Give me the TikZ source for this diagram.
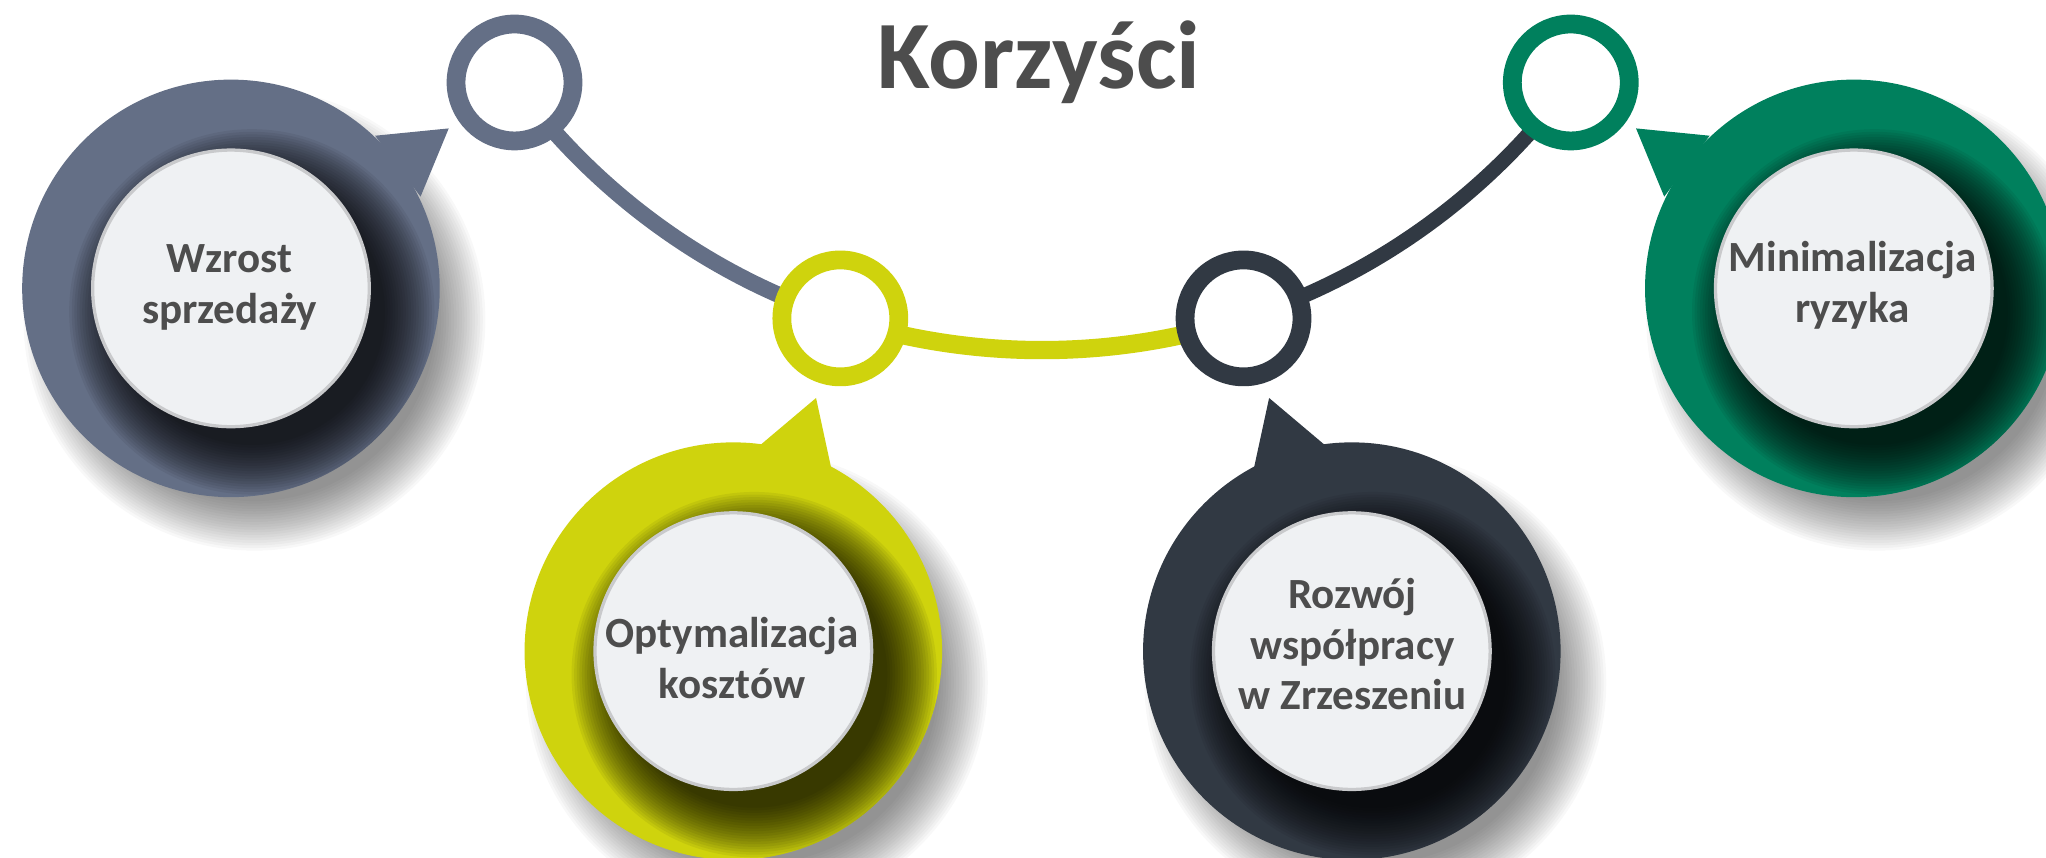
\documentclass[tikz,border=0pt]{standalone}
\usepackage{fontspec}
\setmainfont{Carlito}
\usetikzlibrary{calc,backgrounds}
\definecolor{cgray}{HTML}{646F86}
\definecolor{cyel}{HTML}{CFD30D}
\definecolor{cdark}{HTML}{313943}
\definecolor{cgreen}{HTML}{00805D}
\definecolor{ctext}{HTML}{4D4D4D}
\definecolor{cdisc}{HTML}{EFF1F3}
\definecolor{crim}{HTML}{C9CACC}
\newcommand{\bubOuterShadow}[1]{%
  \foreach \i in {1,...,20}{\fill[black,opacity=0.026] ($(#1)+(18,24)$) circle[radius={179-2*\i}];}}
\newcommand{\bubInnerShadow}[1]{%
  \begin{scope}\clip (#1) circle[radius=160];
  \foreach \i in {1,...,20}{\fill[black,opacity=0.06] ($(#1)+(16,18)$) circle[radius={142-2*\i}];}
  \end{scope}}
\begin{document}
\begin{tikzpicture}[x=1pt,y=-1pt,
  ring/.style={circle, draw=#1, line width=14.4pt, fill=white, minimum size=89.6pt, inner sep=0pt},
  link/.style={draw=#1},
  bubble/.style={circle, fill=#1, minimum size=320pt, inner sep=0pt, outer sep=0pt},
  disc/.style={circle, fill=cdisc, draw=crim, line width=2.5pt, minimum size=212pt, inner sep=0pt},
  lbl/.style={font=\bfseries\fontsize{33}{39}\selectfont, text=ctext, align=center, inner sep=0pt},
]
\useasboundingbox (0,0) rectangle (1568,657);

% title
\node[font=\bfseries\fontsize{74}{80}\selectfont, text=ctext, anchor=base, inner sep=0pt] (title) at (796,67.5) {Korzyści};

% rings
\node[ring=cgray]  (rg) at (394.3,63.2) {};
\node[ring=cyel]   (ry) at (644,244) {};
\node[ring=cdark]  (rd) at (953,244) {};
\node[ring=cgreen] (rn) at (1203.8,63.2) {};

\begin{scope}[on background layer]
\draw[link=cgray, line width=12.5pt]  (rg.center) to[bend right=18, looseness=0.87] (ry.center);
\draw[link=cyel, line width=14pt]     (ry.center) to[bend right=18, looseness=0.87] (rd.center);
\draw[link=cdark, line width=11.5pt]  (rd.center) to[bend right=18, looseness=0.87] (rn.center);
\end{scope}

% bubble 1 gray
\coordinate (pg) at (177,221);
\bubOuterShadow{pg}
\node[bubble=cgray] (bg) at (pg) {};
\fill[cgray] ([shift={(110.5,-117)}]pg) -- ([shift={(166.9,-122.6)}]pg) -- ([shift={(145.3,-70.3)}]pg) -- cycle;
\bubInnerShadow{pg}
\node[disc] (dg) at (pg) {};
\node[lbl] (tg) at (176,220.3) {Wzrost\\sprzedaży};

% bubble 2 yellow
\coordinate (py) at (562,499);
\bubOuterShadow{py}
\node[bubble=cyel] (by) at (py) {};
\fill[cyel] ([shift={(20.5,-157.8)}]py) -- ([shift={(63.4,-194)}]py) -- ([shift={(75.4,-138.5)}]py) -- cycle;
\bubInnerShadow{py}
\node[disc] (dy) at (py) {};
\node[lbl] (ty) at (561,504.5) {Optymalizacja\\kosztów};

% bubble 3 dark
\coordinate (pd) at (1036,499);
\bubOuterShadow{pd}
\node[bubble=cdark] (bd) at (pd) {};
\fill[cdark] ([shift={(-20.5,-157.8)}]pd) -- ([shift={(-63.4,-194)}]pd) -- ([shift={(-75.4,-138.5)}]pd) -- cycle;
\bubInnerShadow{pd}
\node[disc] (dd) at (pd) {};
\node[lbl] (td) at (1036.5,493.6) {Rozwój\\współpracy\\w Zrzeszeniu};

% bubble 4 green
\coordinate (pn) at (1420.7,221);
\bubOuterShadow{pn}
\node[bubble=cgreen] (bn) at (pn) {};
\fill[cgreen] ([shift={(-110.5,-117)}]pn) -- ([shift={(-166.9,-122.6)}]pn) -- ([shift={(-145.3,-70.3)}]pn) -- cycle;
\bubInnerShadow{pn}
\node[disc] (dn) at (pn) {};
\node[lbl] (tn) at (1419.7,218.5) {Minimalizacja\\ryzyka};
\end{tikzpicture}
\end{document}
